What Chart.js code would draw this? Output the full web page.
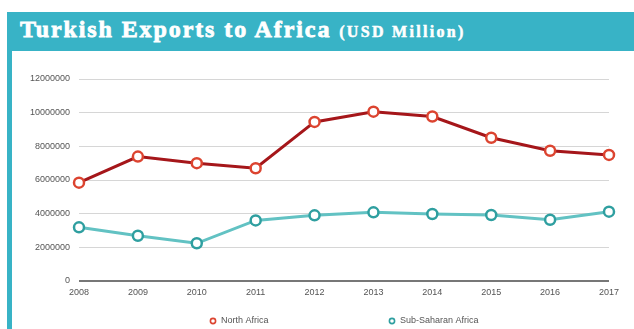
<!DOCTYPE html>
<html>
<head>
<meta charset="utf-8">
<script src="https://cdn.jsdelivr.net/npm/chart.js@4.4.1/dist/chart.umd.min.js"></script>
<style>
  html, body { margin: 0; padding: 0; background: #fff; }
  body { width: 634px; height: 329px; position: relative; overflow: hidden; }
  .frame { position: absolute; left: 7px; top: 12px; right: 0; bottom: 0; background: #38b3c6; }
  .title { position: absolute; left: 20px; top: 16px; color: #fff; font-family: 'Liberation Serif', 'DejaVu Serif', serif; font-weight: bold; font-size: 24px; letter-spacing: 1.9px; -webkit-text-stroke: 0.8px #fff; white-space: nowrap; }
  .title small { font-size: 16px; letter-spacing: 2.3px; -webkit-text-stroke: 0.5px #fff; }
  .panel { position: absolute; left: 12px; top: 51px; right: 0; bottom: 0; background: #fff; }
  canvas { position: absolute; left: 0; top: 0; }
</style>
</head>
<body>
<div class="frame"></div>
<div class="title">Turkish Exports to Africa <small>(USD Million)</small></div>
<div class="panel"><canvas id="chart" width="622" height="278"></canvas></div>
<script>
const years = ['2008', '2009', '2010', '2011', '2012', '2013', '2014', '2015', '2016', '2017'];
const northAfrica = [5840000, 7390000, 7000000, 6700000, 9450000, 10060000, 9770000, 8510000, 7740000, 7490000];
const subSaharan = [3190000, 2690000, 2240000, 3600000, 3900000, 4080000, 3980000, 3920000, 3640000, 4120000];
const yTicks = [0, 2000000, 4000000, 6000000, 8000000, 10000000, 12000000];

const tickFont = { size: 9, family: '"Liberation Sans Narrow", "Liberation Sans", Arial, sans-serif' };

// legend spread wide like the original, drawn by hand
const spreadLegend = {
  id: 'spreadLegend',
  afterDraw(chart) {
    const ctx = chart.ctx;
    const xs = [201, 380];
    const y = 270;
    ctx.save();
    ctx.font = '9px "Liberation Sans Narrow", "Liberation Sans", Arial, sans-serif';
    ctx.textBaseline = 'middle';
    chart.data.datasets.forEach((ds, i) => {
      ctx.beginPath();
      ctx.arc(xs[i], y, 2.6, 0, Math.PI * 2);
      ctx.fillStyle = '#fff';
      ctx.fill();
      ctx.lineWidth = 1.6;
      ctx.strokeStyle = ds.pointBorderColor;
      ctx.stroke();
      ctx.fillStyle = '#555';
      ctx.fillText(ds.label, xs[i] + 8, y);
    });
    ctx.restore();
  }
};

new Chart(document.getElementById('chart'), {
  type: 'line',
  data: {
    labels: years,
    datasets: [
      {
        label: 'North Africa',
        data: northAfrica,
        borderColor: '#a5161a',
        borderWidth: 3,
        pointRadius: 5,
        pointBorderWidth: 2.5,
        pointBorderColor: '#dc4430',
        pointBackgroundColor: '#fff',
        tension: 0
      },
      {
        label: 'Sub-Saharan Africa',
        data: subSaharan,
        borderColor: '#62c2c3',
        borderWidth: 3,
        pointRadius: 5,
        pointBorderWidth: 2.5,
        pointBorderColor: '#2f9fa0',
        pointBackgroundColor: '#fff',
        tension: 0
      }
    ]
  },
  options: {
    responsive: false,
    animation: false,
    layout: { padding: { top: 28, right: 25, left: 0, bottom: 0 } },
    plugins: { legend: { display: false }, tooltip: { enabled: false } },
    scales: {
      x: {
        grid: { display: false, drawTicks: false },
        border: { display: false },
        ticks: { color: '#555', font: tickFont, padding: 6, maxRotation: 0, autoSkip: false },
        afterFit: s => { s.height = 48; }
      },
      y: {
        min: 0,
        max: 12000000,
        afterBuildTicks: s => { s.ticks = yTicks.map(v => ({ value: v })); },
        grid: {
          drawTicks: false,
          color: c => c.tick && c.tick.value === 0 ? '#777' : '#d6d6d6',
          lineWidth: c => c.tick && c.tick.value === 0 ? 2 : 1
        },
        border: { display: false },
        ticks: { color: '#555', font: tickFont, padding: 9, callback: v => String(v) },
        afterFit: s => { s.width = 67; }
      }
    }
  },
  plugins: [spreadLegend]
});
</script>
</body>
</html>
